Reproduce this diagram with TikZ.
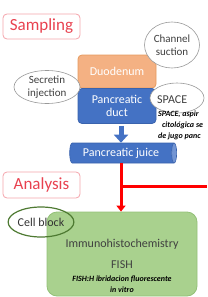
\documentclass[tikz,border=0pt]{standalone}
\usepackage{fontspec}
\setmainfont{Carlito}
\usetikzlibrary{positioning,shapes.geometric,arrows.meta}

\definecolor{titlered}{HTML}{E8414F}
\definecolor{titleedge}{HTML}{F4A3AB}
\definecolor{duoorange}{HTML}{F4B183}
\definecolor{duoedge}{HTML}{E59A5E}
\definecolor{ductblue}{HTML}{4472C4}
\definecolor{ductedge}{HTML}{3A63AD}
\definecolor{labgreen}{HTML}{A9D18E}
\definecolor{labedge}{HTML}{93C078}
\definecolor{cellgreen}{HTML}{4E7A32}

\begin{document}
\begin{tikzpicture}[x=1pt, y=-1pt,
    titlebox/.style={draw=titleedge, line width=0.8pt, rounded corners=4pt,
      text=titlered, font=\fontsize{17}{19}\selectfont,
      minimum width=77pt, minimum height=25pt},
    bubble/.style={ellipse, draw=gray!80, fill=white, line width=0.6pt,
      align=center, inner sep=0pt, font=\fontsize{11}{12.5}\selectfont,
      text=black!75},
    organ/.style={rounded corners=4pt, line width=0.8pt, align=center,
      text=white, font=\fontsize{12}{13.5}\selectfont,
      minimum width=78pt},
    note/.style={font=\fontsize{8}{9}\selectfont\bfseries\itshape,
      anchor=west, inner sep=0pt}]
    \useasboundingbox (0,0) rectangle (207,297);
    % ---- Sampling ----
    \node[titlebox] (sampling) at (41.5,26.5) {Sampling};
    \node[organ, fill=duoorange, draw=duoedge, minimum height=33pt]
      (duodenum) at (117,71.5) {Duodenum};
    \node[organ, fill=ductblue, draw=ductedge, minimum height=35pt]
      (duct) at (117,106) {Pancreatic\\duct};
    \node[bubble, minimum width=55pt, minimum height=46pt]
      (channel) at (172,45) {Channel\\suction};
    \node[bubble, minimum width=66pt, minimum height=33pt]
      (secretin) at (47,87) {Secretin\\injection};
    \node[bubble, minimum width=54pt, minimum height=30pt]
      (spaceell) at (177,98) {};
    \node[font=\fontsize{12}{13}\selectfont, text=black!75, anchor=west,
      inner sep=0pt] (space) at (157,100) {SPACE};
    \node[note] (note1) at (158,114) {SPACE, aspir};
    \node[note] (note2) at (162,125) {citológica se};
    \node[note] (note3) at (158,136) {de jugo panc};
    % ---- Pancreatic juice ----
    \node[cylinder, shape aspect=0.35, cylinder uses custom fill,
      cylinder body fill=ductblue, cylinder end fill=ductblue!75,
      draw=ductedge, line width=0.6pt, text=white,
      font=\fontsize{12}{13}\selectfont,
      minimum width=20pt, minimum height=107pt, inner sep=2pt]
      (juice) at (121,153) {Pancreatic juice};
    \draw[ductblue, line width=5pt,
      -{Triangle[width=14pt, length=8pt]}]
      (duct.south -| juice.north) ++(0,2) coordinate (arrowtop)
      (arrowtop) -- (juice.north);
    % ---- Analysis ----
    \node[titlebox, minimum height=26pt] (analysis) at (41.5,185) {Analysis};
    \node[rounded corners=10pt, fill=labgreen, draw=labedge, line width=0.8pt,
      minimum width=150pt, minimum height=84pt] (lab) at (122,254) {};
    \node[font=\fontsize{12}{13.5}\selectfont, text=black!75, align=center]
      (ihc) at (122,244) {Immunohistochemistry};
    \node[font=\fontsize{12}{13.5}\selectfont, text=black!75]
      (fish) at (122,265) {FISH};
    \node[note, anchor=center, align=center,
      font=\fontsize{8}{11.5}\selectfont\bfseries\itshape]
      (fishnote) at (122,284) {FISH:H ibridacion fluorescente\\in vitro};
    \node[ellipse, draw=cellgreen, line width=1.2pt, inner sep=0pt,
      minimum width=63pt, minimum height=30pt,
      font=\fontsize{12}{13}\selectfont, text=black!80]
      (cellblock) at (41,222) {Cell block};
    % red flow
    \coordinate (branch) at (juice.south |- 0,186);
    \coordinate (exit) at (207,186);
    \draw[red, line width=3pt, -{Triangle[width=9pt, length=6pt]}]
      (juice.south) -- (juice.south |- lab.north);
    \draw[red, line width=3pt] (branch) -- (exit);
  \end{tikzpicture}
\end{document}
